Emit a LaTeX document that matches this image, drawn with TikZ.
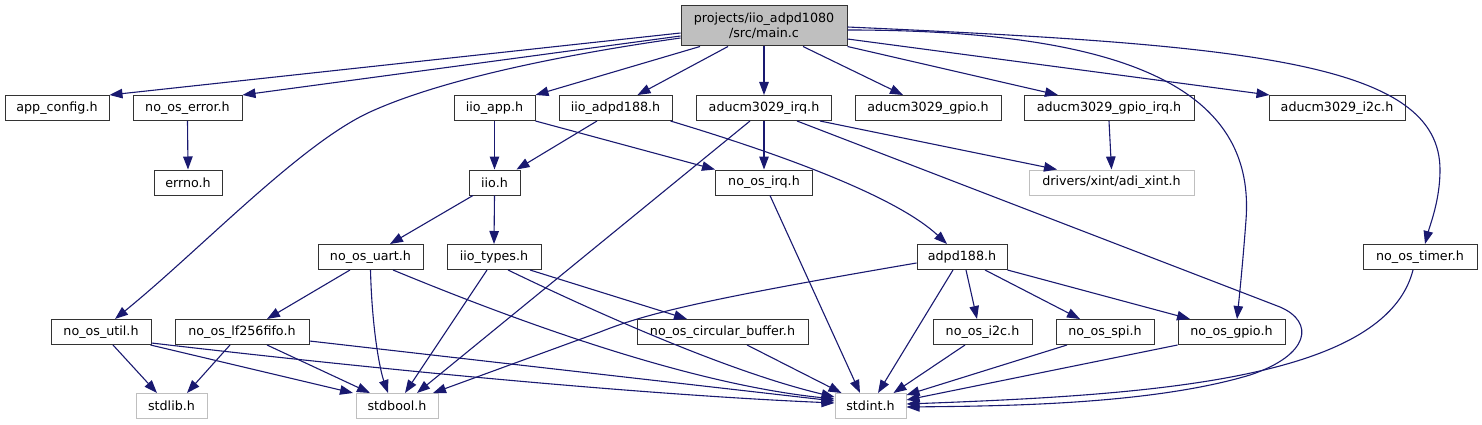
\documentclass[tikz,border=0pt]{standalone}
\usepackage{fontspec}
\setmainfont{DejaVu Sans}
\usepackage{xcolor}
\usepackage{tikz}
\usetikzlibrary{positioning,arrows.meta}
\definecolor{edgeblue}{RGB}{25,25,112}
\definecolor{nodegray}{RGB}{191,191,191}
\tikzset{
  hdr/.style={draw=black!80, fill=white, line width=1pt, inner sep=0pt, minimum height=25pt, font=\fontsize{12.7}{15.5}\selectfont},
  syshdr/.style={hdr, draw=nodegray},
  rootbox/.style={hdr, fill=nodegray, minimum height=40pt, align=center},
  arr/.style={-{Triangle[length=13pt,width=9.5pt]}, line width=1.1pt, draw=edgeblue},
}
\begin{document}
\begin{tikzpicture}[x=1pt,y=-1pt]
    \useasboundingbox (0,0) rectangle (1482,425);
    \node[rootbox, minimum width=166pt] (main) at (764,26) {projects/iio\_adpd1080\\/src/main.c};
    \node[hdr, minimum width=104pt] (appcfg) at (57,108) {app\_config.h};
    \node[hdr, minimum width=109pt] (oserr) at (187.5,108) {no\_os\_error.h};
    \node[hdr, minimum width=81pt] (iioapp) at (494.5,108) {iio\_app.h};
    \node[hdr, minimum width=113pt] (iioadpd) at (615.5,108) {iio\_adpd188.h};
    \node[hdr, minimum width=135pt] (irq) at (764,108) {aducm3029\_irq.h};
    \node[hdr, minimum width=146pt] (gpio) at (928,108) {aducm3029\_gpio.h};
    \node[hdr, minimum width=170pt] (gpioirq) at (1109,108) {aducm3029\_gpio\_irq.h};
    \node[hdr, minimum width=136pt] (i2c) at (1337,108) {aducm3029\_i2c.h};
    \node[hdr, minimum width=68pt] (errno) at (188,182.5) {errno.h};
    \node[hdr, minimum width=51pt] (iio) at (494.5,182.5) {iio.h};
    \node[hdr, minimum width=97pt] (osirq) at (764,182.5) {no\_os\_irq.h};
    \node[syshdr, minimum width=165pt] (xint) at (1111.5,182.5) {drivers/xint/adi\_xint.h};
    \node[hdr, minimum width=105pt] (uart) at (370.5,257) {no\_os\_uart.h};
    \node[hdr, minimum width=94pt] (types) at (494,257) {iio\_types.h};
    \node[hdr, minimum width=90pt] (adpd) at (962,257) {adpd188.h};
    \node[hdr, minimum width=114pt] (timer) at (1420,257) {no\_os\_timer.h};
    \node[hdr, minimum width=100pt] (util) at (101,332) {no\_os\_util.h};
    \node[hdr, minimum width=134pt] (fifo) at (242,332) {no\_os\_lf256fifo.h};
    \node[hdr, minimum width=171pt] (cbuf) at (722.5,332) {no\_os\_circular\_buffer.h};
    \node[hdr, minimum width=99pt] (osi2c) at (982.5,332) {no\_os\_i2c.h};
    \node[hdr, minimum width=98pt] (osspi) at (1105,332) {no\_os\_spi.h};
    \node[hdr, minimum width=107pt] (osgpio) at (1231.5,332) {no\_os\_gpio.h};
    \node[syshdr, minimum width=71pt] (stdlib) at (171.5,406) {stdlib.h};
    \node[syshdr, minimum width=82pt] (stdbool) at (397,406) {stdbool.h};
    \node[syshdr, minimum width=71pt] (stdint) at (870.5,406) {stdint.h};

    \draw[arr] ([yshift=-7pt]main.west) -- (appcfg.north east);
    \draw[arr] ([yshift=-10pt]main.west) -- (oserr.north east);
    \draw[arr] ([yshift=-12pt]main.west) .. controls (560,55) and (440,80) .. (370,112)
      .. controls (300,144) and (200,250) .. ([xshift=14pt]util.north);
    \draw[arr] ([xshift=-64pt]main.south) -- (iioapp.north east);
    \draw[arr] ([xshift=-36pt]main.south) -- ([xshift=22pt]iioadpd.north);
    \draw[arr] (main.south) -- (irq.north);
    \draw[arr] ([xshift=39pt]main.south) -- ([xshift=-25pt]gpio.north);
    \draw[arr] (main.south east) -- ([xshift=-51pt]gpioirq.north);
    \draw[arr] ([yshift=-13pt]main.east) -- ([xshift=1pt]i2c.north west);
    \draw[arr] ([yshift=-4pt]main.east) .. controls (1150,30) and (1255,100) .. (1246,220)
      .. controls (1243,260) and (1240,290) .. ([xshift=5.5pt]osgpio.north);
    \draw[arr] ([yshift=-1pt]main.east) .. controls (1250,45) and (1440,62) .. (1440,170)
      .. controls (1440,200) and (1430,225) .. ([xshift=5pt]timer.north);

    \draw[arr] (oserr.south) -- (errno.north);
    \draw[arr] (iioapp.south) -- (iio.north);
    \draw[arr] (iioapp.south east) -- (osirq.north west);
    \draw[arr] ([xshift=-18.5pt]iioadpd.south) -- ([xshift=-4pt]iio.north east);
    \draw[arr] ([xshift=-2pt]iioadpd.south east) .. controls (800,160) and (900,200) .. ([xshift=-15pt]adpd.north);
    \draw[arr] ([xshift=-14pt]irq.south) -- ([xshift=20pt]stdbool.north);
    \draw[arr] (irq.south) -- (osirq.north);
    \draw[arr] ([xshift=56pt]irq.south) -- ([xshift=-54.5pt]xint.north);
    \draw[arr] ([xshift=33pt]irq.south) -- (1280,307) .. controls (1315,322) and (1310,355) .. (1250,375)
      .. controls (1150,405) and (1000,406) .. ([yshift=-1pt]stdint.east);
    \draw[arr] (gpioirq.south) -- (xint.north);

    \draw[arr] ([xshift=-21.5pt]iio.south) -- ([xshift=19.5pt]uart.north);
    \draw[arr] (iio.south) -- (types.north);
    \draw[arr] ([xshift=6pt]osirq.south) -- ([xshift=-10.5pt]stdint.north);

    \draw[arr] ([xshift=-20.5pt]uart.south) -- ([xshift=25pt]fifo.north);
    \draw[arr] (uart.south) .. controls (372,330) and (380,370) .. ([xshift=-9pt]stdbool.north);
    \draw[arr] ([xshift=22.5pt]uart.south) .. controls (543,332) and (700,385) .. ([yshift=7pt]stdint.west);
    \draw[arr] ([xshift=-7pt]types.south) -- ([xshift=8pt]stdbool.north);
    \draw[arr] ([xshift=14pt]types.south) .. controls (570,300) and (720,370) .. ([yshift=9pt]stdint.west);
    \draw[arr] ([xshift=36pt]types.south) -- ([xshift=-35.5pt]cbuf.north);
    \draw[arr] ([yshift=-6pt]adpd.west) .. controls (700,300) and (645,314) .. (600,332) -- ([xshift=36pt]stdbool.north);
    \draw[arr] ([xshift=-9pt]adpd.south) -- ([xshift=7.5pt]stdint.north);
    \draw[arr] ([xshift=4pt]adpd.south) -- ([xshift=-5.5pt]osi2c.north);
    \draw[arr] ([xshift=23pt]adpd.south) -- ([xshift=-25pt]osspi.north);
    \draw[arr] (adpd.south east) -- ([xshift=-41.5pt]osgpio.north);
    \draw[arr] ([xshift=-7pt]timer.south) .. controls (1385,380) and (1150,395) .. ([yshift=2pt]stdint.east);

    \draw[arr] ([xshift=12pt]util.south) -- ([xshift=-14.5pt]stdlib.north);
    \draw[arr] ([xshift=-1pt]util.south east) -- ([xshift=-44pt]stdbool.north);
    \draw[arr] ([yshift=-11pt]util.east) .. controls (400,372) and (650,395) .. ([yshift=3pt]stdint.west);
    \draw[arr] ([xshift=-12pt]fifo.south) -- ([xshift=15.5pt]stdlib.north);
    \draw[arr] ([xshift=25pt]fifo.south) -- ([xshift=-27pt]stdbool.north);
    \draw[arr] ([yshift=-9pt]fifo.east) -- ([yshift=5pt]stdint.west);
    \draw[arr] ([xshift=24.5pt]cbuf.south) -- ([xshift=-29pt]stdint.north);
    \draw[arr] ([xshift=-17.5pt]osi2c.south) -- ([xshift=23pt]stdint.north);
    \draw[arr] ([xshift=-38pt]osspi.south) -- ([yshift=11pt]stdint.east);
    \draw[arr] (osgpio.south west) -- ([yshift=6pt]stdint.east);
  \end{tikzpicture}
\end{document}
